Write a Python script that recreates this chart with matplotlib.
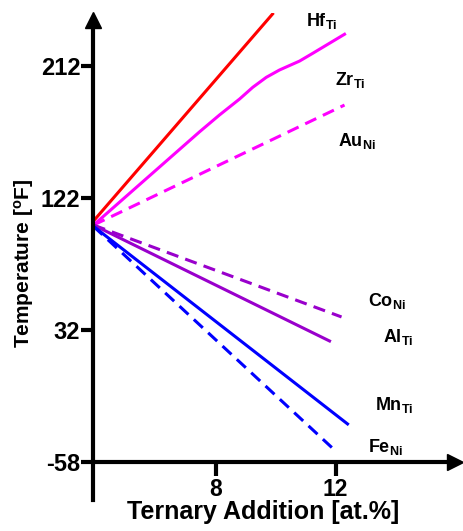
import numpy as np
import matplotlib
matplotlib.use("Agg")
import matplotlib.pyplot as plt

plt.rcParams['font.family'] = ['Liberation Sans', 'DejaVu Sans']
plt.rcParams['font.weight'] = 'bold'
plt.rcParams['axes.unicode_minus'] = False
plt.rcParams['mathtext.fontset'] = 'custom'
plt.rcParams['mathtext.rm'] = 'Liberation Sans:bold'
plt.rcParams['mathtext.bf'] = 'Liberation Sans:bold'
plt.rcParams['mathtext.default'] = 'rm'

# data (x in at.%, y in degF)
hf_x = [3.93, 9.9]
hf_y = [106.2, 247.4]
zr_x = [3.93, 7.47, 8.13, 8.8, 9.24, 9.69, 10.13, 10.8, 11.24, 12.3]
zr_y = [103.4, 167.1, 178.5, 189.4, 197.4, 204.2, 209.2, 215.3, 220.6, 233.6]
au_x = [3.93, 12.3]
au_y = [103.4, 185.3]
co_x = [3.93, 12.2]
co_y = [103.4, 40.7]
al_x = [3.93, 11.8]
al_y = [103.4, 24.3]
mn_x = [3.93, 12.4]
mn_y = [102.5, -32.3]
fe_x = [3.93, 11.93]
fe_y = [102.5, -49.4]

labels = ["Hf$_{Ti}$", "Zr$_{Ti}$", "Au$_{Ni}$", "Co$_{Ni}$", "Al$_{Ti}$", "Mn$_{Ti}$", "Fe$_{Ni}$"]
label_pos = [(11.03, 242.6), (11.97, 202.4), (12.07, 160.8), (13.07, 51.6),
             (13.57, 27), (13.33, -19.5), (13.07, -48)]

xticks = [8, 12]
yticks = [-58, 32, 122, 212]

fig = plt.figure(figsize=(4.64, 5.31), dpi=100)
ax = fig.add_axes((93.5/464, 31/531, 369.5/464, 487/531))

lw = 2.2
dash = (4, 2.4)
ax.plot(hf_x, hf_y, color='#ff0000', lw=lw)
ax.plot(zr_x, zr_y, color='#ff00ff', lw=lw)
ax.plot(au_x, au_y, color='#ff00ff', lw=lw, dashes=dash)
ax.plot(co_x, co_y, color='#9900cc', lw=lw, dashes=dash)
ax.plot(al_x, al_y, color='#9900cc', lw=lw)
ax.plot(mn_x, mn_y, color='#0000ff', lw=lw)
ax.plot(fe_x, fe_y, color='#0000ff', lw=lw, dashes=dash)

for lab, (tx, ty) in zip(labels, label_pos):
    ax.text(tx, ty, lab, fontsize=13, fontweight='bold', ha='left', va='center')

ax.set_xlim(3.93, 16.25)
ax.set_ylim(-84.2, 248.1)

for s in ['top', 'right']:
    ax.spines[s].set_visible(False)
ax.spines['left'].set_linewidth(3)
ax.spines['bottom'].set_linewidth(3)
ax.spines['bottom'].set_position(('data', -58))
ax.spines['left'].set_bounds(-84.2, 240)
ax.spines['bottom'].set_bounds(3.93, 15.7)

# arrow heads
ax.plot(3.93, 243, marker='^', ms=11, color='k', clip_on=False)
ax.plot(15.98, -58, marker='>', ms=11, color='k', clip_on=False)

ax.set_xticks(xticks)
ax.set_yticks(yticks)
ax.tick_params(axis='x', direction='out', length=10, width=3, pad=2, labelsize=16.5)
ax.tick_params(axis='y', direction='out', length=8.5, width=3, pad=1, labelsize=17)
for t in ax.get_xticklabels() + ax.get_yticklabels():
    t.set_fontweight('bold')

fig.text(263/464, 1 - 512/531, "Ternary Addition [at.%]", fontsize=18, fontweight='bold',
         ha='center', va='center')
fig.text(24/464, 1 - 263/531, "Temperature [$^{o}$F]", fontsize=15, fontweight='bold',
         ha='center', va='center', rotation=90)

fig.savefig("out.png", dpi=100)
